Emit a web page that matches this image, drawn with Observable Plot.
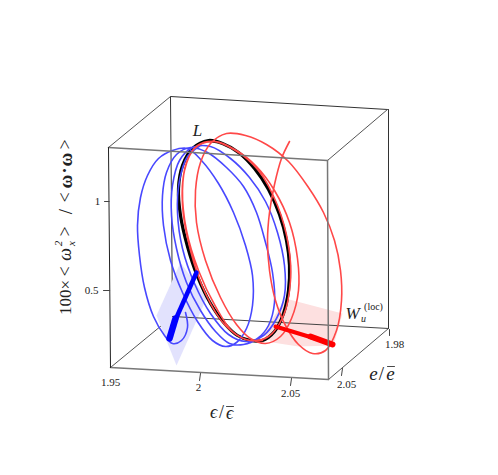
<!DOCTYPE html>
<html>
<head>
<meta charset="utf-8">
<style>html,body{margin:0;padding:0;background:#fff}svg{display:block}svg text{font-family:"Liberation Serif","Times New Roman",serif !important}</style>
<script src="https://cdn.jsdelivr.net/npm/d3@7"></script>
<script src="https://cdn.jsdelivr.net/npm/@observablehq/plot@0.6"></script>
</head>
<body>
<script>
// Picture-plane readings of the projected 3D trajectories
const limitCycle = [[208,140],[222,143],[238,152],[254,168],[268,189],[279,214],[286,240],[289,265],[288,290],[283,313],[274,331],[262,340],[250,340],[237,335],[224,323],[210,303],[197,276],[187,246],[180,215],[178,188],[182,165],[192,148],[208,140],[222,143]];
const redSpiral = [[289,141],[281,158],[274,184],[269,212],[267,240],[269,270],[275,300],[285,325],[298,344],[312,353],[325,350],[336,330],[341,300],[340,270],[334,240],[323,212],[308,187],[288,161],[266,144],[245,135],[226,133],[210,143],[200,162],[195,190],[196,222],[205,260],[220,297],[236,324],[250,338],[265,343],[280,336],[291,318],[298,290],[297,258],[289,222],[274,190],[256,166],[236,150],[215,141],[197,145],[186,162],[182,190],[186,230],[198,270],[215,306],[232,331],[250,340],[268,336],[283,315],[290,280],[288,245],[277,205],[258,170],[235,150],[212,141],[194,148],[184,170],[182,205],[190,250],[205,293],[224,324],[245,339],[262,340]];
const blueSpiral = [[185,312],[187,327],[181,340],[172,343],[164,335],[153,316],[144,287],[139,255],[137,225],[140,197],[147,175],[158,158],[172,150],[187,148],[201,160],[218,183],[233,212],[245,245],[252,275],[252,305],[246,328],[236,342],[225,346],[212,340],[197,321],[182,292],[170,260],[163,225],[162,195],[166,172],[176,154],[190,147],[207,152],[226,167],[243,186],[256,212],[265,242],[272,272],[274,302],[268,325],[257,338],[243,344],[229,343],[215,331],[200,310],[186,282],[176,248],[171,215],[172,185],[179,160],[192,147],[210,146],[230,158],[249,177],[265,201],[277,232],[284,265],[284,295],[276,318],[263,335],[245,341],[228,334],[210,313],[194,283],[182,248],[177,212],[179,180],[187,156],[200,145]];
const blueSheet = [[180,262],[206,298],[176,365],[156,315]];
const redSheet = [[285,298],[342,313],[333,345],[298,346],[272,342],[262,334]];
const blueArrow = [[196,272],[172,326]];
const blueHead = [[175,318],[169,338]];
const redArrow = [[275,326],[318,339]];
const redHead = [[310,336],[332,344]];
// Box edges
const edgesBack = [[[170,96],[387,109]],[[170,96],[172,316]],[[388,109],[388,328]]];
const edgesSide = [[[108,147],[170,96]],[[327,160],[387,109]],[[110,367],[172,316]],[[328,379],[388,328]]];
const edgesFront = [[[108,147],[327,160]],[[327,160],[328,379]],[[110,367],[328,379]]];
const edgeLeftFront = [[108,147],[110,367]];
// Ticks
const ticks = [[[104,201],[108.6,201]],[[103,290],[109.2,290]],[[200,373],[199,380]],[[291,378],[290,385]],[[342,368],[341,375]],[[389,329],[389,335]]];
const tickLabels = [["1",97,201],["0.5",91,290],["1.95",110,382],["2",198,387],["2.05",290,393],["2.05",346,384],["1.98",394,344]];
// Rotated y-axis title pieces [text, x, y, size, style, weight]
const yTitle = [["100×",65,297,17,"normal","normal"],["<",65,271,18,"normal","normal"],["ω",65,254,18,"italic","normal"],["2",58,243,11,"italic","normal"],["x",71,243,11,"italic","normal"],[">",65,231,18,"normal","normal"],["/",65,211,19,"normal","normal"],["<",65,197,18,"normal","normal"],["ω",65,181,19,"normal","bold"],["·",65,170,18,"normal","bold"],["ω",65,159,19,"normal","bold"],[">",65,144,18,"normal","normal"]];
const labels = [["ϵ",213,412,18,"italic"],["/",221,412,18,"normal"],["ϵ",229,413,18,"italic"],["e",373,373,19,"italic"],["/",381,373,19,"normal"],["e",390,373,19,"italic"],["L",197,130,17,"italic"],["W",352,313,17,"italic"],["u",363,318,10,"italic"],["(loc)",373,306,10,"normal"]];
const overbars = [[[226,406],[233,406]],[[387,366],[394,366]]];

const px = d => d[0], py = d => d[1];
const seg = (data, o) => Plot.line(data, {x: px, y: py, ...o});

const plot = Plot.plot({
  width: 498, height: 475, margin: 0,
  x: {domain: [0, 498], range: [0, 498], axis: null},
  y: {domain: [0, 475], range: [0, 475], axis: null},
  style: {background: "#fff"},
  marks: [
    ...edgesBack.map(e => seg(e, {stroke: "#333", strokeWidth: 1})),
    ...edgesSide.map(e => seg(e, {stroke: "#555", strokeWidth: 1})),
    Plot.line([...blueSheet, blueSheet[0]], {x: px, y: py, stroke: "none", fill: "#e2e2fd"}),
    Plot.line([...redSheet, redSheet[0]], {x: px, y: py, stroke: "none", fill: "#fde0e0"}),
    seg([[172,316],[388,328]], {stroke: "#444", strokeWidth: 1}),
    seg(limitCycle, {stroke: "#000", strokeWidth: 3.2, curve: "catmull-rom"}),
    seg(blueSpiral, {stroke: "#4848ff", strokeWidth: 1.6, curve: "catmull-rom"}),
    seg(redSpiral, {stroke: "#ff4848", strokeWidth: 1.6, curve: "catmull-rom"}),
    seg(blueArrow, {stroke: "#0000ff", strokeWidth: 4.5}),
    seg(blueHead, {stroke: "#0000ff", strokeWidth: 6.5}),
    seg(redArrow, {stroke: "#ff0000", strokeWidth: 4}),
    seg(redHead, {stroke: "#ff0000", strokeWidth: 6}),
    ...edgesFront.map(e => seg(e, {stroke: "#777", strokeWidth: 1.5})),
    seg(edgeLeftFront, {stroke: "#222", strokeWidth: 1}),
    ...ticks.map(t => seg(t, {stroke: "#444", strokeWidth: 1})),
    ...overbars.map(b => seg(b, {stroke: "#333", strokeWidth: 0.9})),
    Plot.text(tickLabels, {x: d => d[1], y: d => d[2], text: d => d[0], fontSize: 11, fill: "#222"}),
    ...yTitle.map(t => Plot.text([t], {x: d => d[1], y: d => d[2], text: d => d[0], fontSize: t[3], fontStyle: t[4], fontWeight: t[5], rotate: -90, fill: "#222"})),
    ...labels.map(l => Plot.text([l], {x: d => d[1], y: d => d[2], text: d => d[0], fontSize: l[3], fontStyle: l[4], fill: "#222"}))
  ]
});
document.body.append(plot);
</script>
</body>
</html>
